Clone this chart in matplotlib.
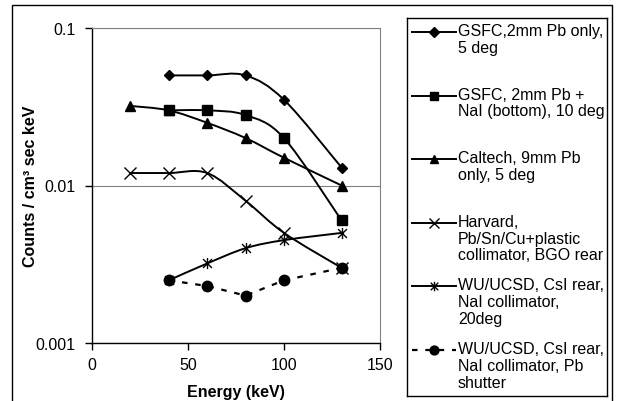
import numpy as np
import matplotlib
matplotlib.use("Agg")
import matplotlib.pyplot as plt
from matplotlib.path import Path
from matplotlib.patches import PathPatch, Rectangle
from matplotlib.lines import Line2D

plt.rcParams['font.family'] = ['Liberation Sans', 'DejaVu Sans']
plt.rcParams['font.size'] = 11.5

# DATA
energy_a = [40, 60, 80, 100, 130]
energy_b = [20, 40, 60, 80, 100, 130]

gsfc_pb = [0.05, 0.05, 0.05, 0.035, 0.013]
gsfc_nai = [0.03, 0.03, 0.028, 0.02, 0.006]
caltech = [0.032, 0.03, 0.025, 0.02, 0.015, 0.01]
harvard = [0.012, 0.012, 0.012, 0.008, 0.005, 0.003]
wu_csi = [0.0025, 0.0032, 0.004, 0.0045, 0.005]
wu_shutter = [0.0025, 0.0023, 0.002, 0.0025, 0.003]

labels = [
    "GSFC,2mm Pb only,\n5 deg",
    "GSFC, 2mm Pb +\nNaI (bottom), 10 deg",
    "Caltech, 9mm Pb\nonly, 5 deg",
    "Harvard,\nPb/Sn/Cu+plastic\ncollimator, BGO rear",
    "WU/UCSD, CsI rear,\nNaI collimator,\n20deg",
    "WU/UCSD, CsI rear,\nNaI collimator, Pb\nshutter",
]

# asterisk marker like excel: x plus a vertical bar
star_marker = Path([(-1, -1), (1, 1), (-1, 1), (1, -1), (0, -1.25), (0, 1.25)],
                   [Path.MOVETO, Path.LINETO, Path.MOVETO, Path.LINETO, Path.MOVETO, Path.LINETO])

series = [
    # x, y, marker, markersize, filled, smooth, linestyle
    (energy_a, gsfc_pb, 'D', 5.5, True, True, '-'),
    (energy_a, gsfc_nai, 's', 7, True, True, '-'),
    (energy_b, caltech, '^', 7, True, True, '-'),
    (energy_b, harvard, 'x', 9, False, True, '-'),
    (energy_a, wu_csi, star_marker, 8, False, True, '-'),
    (energy_a, wu_shutter, 'o', 7.5, True, False, (0, (2.5, 3.5))),
]


def smooth_path(x, y):
    # excel style smoothed line: bezier segments, control points in (x, log y)
    px = np.array(x, dtype=float)
    py = np.log10(np.array(y, dtype=float))
    n = len(px)
    verts = [(px[0], py[0])]
    codes = [Path.MOVETO]
    for i in range(n - 1):
        i0 = max(i - 1, 0)
        i3 = min(i + 2, n - 1)
        c1 = (px[i] + (px[i + 1] - px[i0]) / 6, py[i] + (py[i + 1] - py[i0]) / 6)
        c2 = (px[i + 1] - (px[i3] - px[i]) / 6, py[i + 1] - (py[i3] - py[i]) / 6)
        verts += [c1, c2, (px[i + 1], py[i + 1])]
        codes += [Path.CURVE4] * 3
    verts = [(vx, 10 ** vy) for vx, vy in verts]
    return Path(verts, codes)


fig = plt.figure(figsize=(6.18, 4.02), dpi=100)
ax = fig.add_axes([92 / 618, 58 / 402, 288 / 618, 315 / 402])

ax.set_yscale('log')
ax.set_xlim(0, 150)
ax.set_ylim(0.001, 0.1)

for x, y, mk, ms, filled, smooth, ls in series:
    if smooth:
        ax.add_patch(PathPatch(smooth_path(x, y), fill=False, lw=1.4, ec='black', zorder=2))
    else:
        ax.plot(x, y, color='black', lw=1.6, ls=ls, zorder=2)
    ax.plot(x, y, ls='none', marker=mk, ms=ms, mfc='black' if filled else 'none',
            mec='black', mew=1.0, zorder=3)

ax.set_xticks([0, 50, 100, 150])
ax.set_yticks([0.001, 0.01, 0.1])
ax.set_yticklabels(['0.001', '0.01', '0.1'])
ax.minorticks_off()
ax.tick_params(axis='both', direction='out', length=5, width=1, color='black')
ax.tick_params(axis='y', pad=7)
ax.tick_params(axis='x', pad=5)
ax.yaxis.grid(True, color='#808080', lw=0.8)
ax.set_axisbelow(True)
for side in ['top', 'right']:
    ax.spines[side].set_color('#808080')
    ax.spines[side].set_linewidth(0.8)
for side in ['left', 'bottom']:
    ax.spines[side].set_linewidth(1.0)

ax.set_xlabel('Energy (keV)', fontweight='bold', labelpad=9)
ax.set_ylabel('Counts / cm³ sec keV', fontweight='bold', labelpad=-2)

# LEGEND (drawn by hand, entries top aligned in equal slots like excel)
leg = fig.add_axes([407 / 618, 5 / 402, 200 / 618, 378 / 402])
leg.set_xlim(0, 200)
leg.set_ylim(378, 0)
leg.set_xticks([])
leg.set_yticks([])
for s in leg.spines.values():
    s.set_linewidth(1.0)

for i, (x, y, mk, ms, filled, smooth, ls) in enumerate(series):
    ly = 14 + 63.6 * i
    leg.add_line(Line2D([5, 49], [ly, ly], color='black', lw=1.4 if smooth else 1.6, ls=ls))
    leg.add_line(Line2D([27], [ly], ls='none', marker=mk, ms=ms * 0.85, mfc='black' if filled else 'none',
                        mec='black', mew=1.0))
    leg.text(51, ly - 9, labels[i], va='top', ha='left', fontsize=11.5, linespacing=1.15)

# outer chart border
fig.add_artist(Rectangle((12 / 618, -0.05), 600 / 618, 396 / 402 + 0.05, transform=fig.transFigure,
                         fill=False, ec='black', lw=1.0))

fig.savefig('out.png', dpi=100)
